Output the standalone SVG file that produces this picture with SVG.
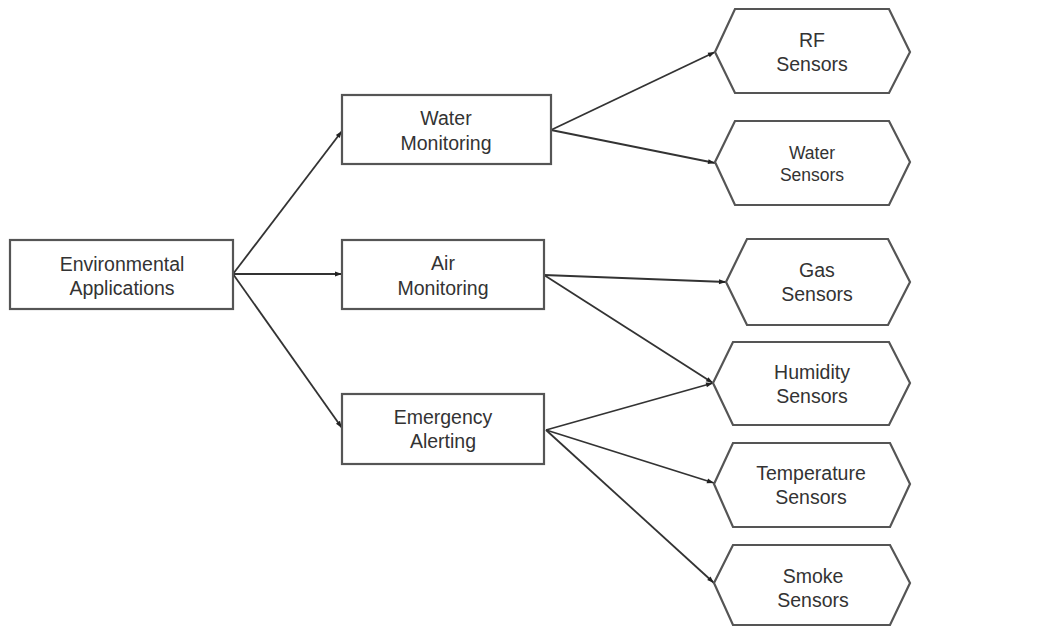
<svg xmlns="http://www.w3.org/2000/svg" width="1048" height="629" viewBox="0 0 1048 629">
<style>
.box{fill:#fff;stroke:#555;stroke-width:2.2}
.t{font-family:"Liberation Sans",Arial,sans-serif;font-size:19.5px;fill:#333;text-anchor:middle}
.ts{font-size:17.5px}
.c{stroke:#333;stroke-width:1.8;fill:none;marker-end:url(#ah)}
</style>
<defs>
<marker id="ah" viewBox="0 0 10 10" refX="10" refY="5" markerWidth="8" markerHeight="7" markerUnits="userSpaceOnUse" orient="auto">
<path d="M0,1.5 L10,5 L0,8.5 Z" fill="#222"/>
</marker>
</defs>
<rect width="1048" height="629" fill="#fff"/>
<g id="connectors">
<line class="c" x1="233" y1="274" x2="342" y2="131"/>
<line class="c" x1="233" y1="274" x2="342" y2="274"/>
<line class="c" x1="233" y1="274" x2="342" y2="428"/>
<line class="c" x1="551" y1="130" x2="715" y2="52"/>
<line class="c" x1="551" y1="130" x2="715" y2="163"/>
<line class="c" x1="544" y1="275" x2="726" y2="282"/>
<line class="c" x1="544" y1="275" x2="713" y2="383"/>
<line class="c" x1="546" y1="430" x2="713" y2="383"/>
<line class="c" x1="546" y1="430" x2="714" y2="483"/>
<line class="c" x1="546" y1="430" x2="714" y2="583"/>
</g>
<g id="env">
<rect class="box" x="10" y="240" width="223" height="69"/>
<text class="t" x="122" y="271">Environmental</text>
<text class="t" x="122" y="295">Applications</text>
</g>
<g id="water-monitoring">
<rect class="box" x="342" y="95" width="209" height="69"/>
<text class="t" x="446" y="125">Water</text>
<text class="t" x="446" y="150">Monitoring</text>
</g>
<g id="air-monitoring">
<rect class="box" x="342" y="240" width="202" height="69"/>
<text class="t" x="443" y="270">Air</text>
<text class="t" x="443" y="295">Monitoring</text>
</g>
<g id="emergency-alerting">
<rect class="box" x="342" y="394" width="202" height="70"/>
<text class="t" x="443" y="424">Emergency</text>
<text class="t" x="443" y="448">Alerting</text>
</g>
<g id="rf-sensors">
<polygon class="box" points="715,52 735,9 889,9 910,52 889,93 735,93"/>
<text class="t" x="812" y="47">RF</text>
<text class="t" x="812" y="71">Sensors</text>
</g>
<g id="water-sensors">
<polygon class="box" points="715,162 735,121 889,121 910,162 889,205 735,205"/>
<text class="t ts" x="812" y="159">Water</text>
<text class="t ts" x="812" y="181">Sensors</text>
</g>
<g id="gas-sensors">
<polygon class="box" points="726,282 747,239 888,239 910,282 888,325 747,325"/>
<text class="t" x="817" y="277">Gas</text>
<text class="t" x="817" y="301">Sensors</text>
</g>
<g id="humidity-sensors">
<polygon class="box" points="713,383 733,342 889,342 910,383 889,425 733,425"/>
<text class="t" x="812" y="379">Humidity</text>
<text class="t" x="812" y="403">Sensors</text>
</g>
<g id="temperature-sensors">
<polygon class="box" points="714,484 733,443 890,443 910,484 890,527 733,527"/>
<text class="t" x="811" y="480">Temperature</text>
<text class="t" x="811" y="504">Sensors</text>
</g>
<g id="smoke-sensors">
<polygon class="box" points="714,583 733,545 890,545 910,583 890,625 733,625"/>
<text class="t" x="813" y="583">Smoke</text>
<text class="t" x="813" y="607">Sensors</text>
</g>
</svg>
